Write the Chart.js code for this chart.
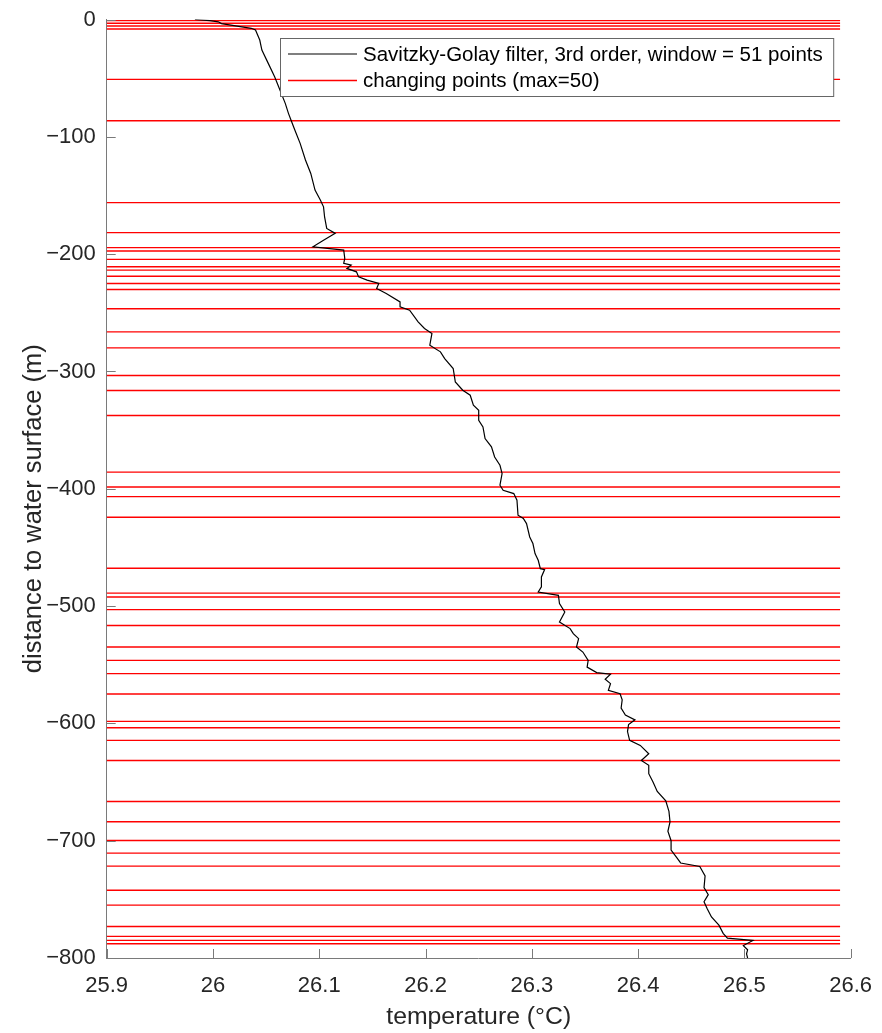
<!DOCTYPE html>
<html><head><meta charset="utf-8">
<script src="https://cdn.jsdelivr.net/npm/chart.js@4.4.1/dist/chart.umd.min.js"></script>
<style>html,body{margin:0;padding:0;background:#fff}#wrap{width:882px;height:1033px}</style>
</head><body><div id="wrap"><canvas id="c" width="882" height="1033"></canvas></div>
<script>
// ---- data ----
const curveDepth = [0,-0.9,-2.0,-3.5,-7.5,-9.0,-17.5,-26.0,-37.4,-48.8,-60.1,-71.5,-80.0,-87.2,-94.2,-105.6,-119.8,-131.2,-145.4,-153.9,-159.7,-168.2,-178.1,-182.3,-188.1,-193.8,-196.6,-203.7,-207.9,-209.4,-212.2,-215.1,-219.4,-222.2,-225.0,-229.3,-233.5,-240.7,-244.9,-247.8,-257.7,-263.4,-267.6,-277.6,-283.3,-289.0,-297.5,-308.9,-316.0,-320.3,-328.8,-333.1,-341.6,-347.3,-357.2,-364.3,-372.9,-380.0,-387.0,-397.0,-401.3,-404.1,-409.8,-422.6,-425.4,-429.7,-441.1,-446.7,-455.3,-461.0,-468.1,-468.9,-475.2,-483.7,-488.0,-490.9,-497.9,-505.1,-513.6,-519.2,-523.5,-527.8,-534.9,-539.2,-546.3,-552.0,-556.7,-558.1,-562.4,-566.1,-571.9,-574.7,-580,-587,-593,-597,-601,-607,-614.5,-618.8,-625.9,-631.6,-635.8,-642.9,-650,-658,-666,-675,-684,-692,-700,-708,-714,-719,-722,-730,-740,-746,-752,-758,-765,-772,-779,-783,-785.1,-789.4,-793,-796.4,-800];
const curveTemp = [25.983,25.997,26.005,26.008,26.036,26.040,26.044,26.046,26.052,26.058,26.063,26.068,26.071,26.074,26.077,26.082,26.087,26.092,26.096,26.101,26.104,26.105,26.107,26.115,26.104,26.094,26.123,26.124,26.123,26.130,26.126,26.135,26.137,26.145,26.156,26.154,26.163,26.176,26.176,26.185,26.193,26.199,26.206,26.204,26.214,26.218,26.226,26.228,26.235,26.242,26.245,26.250,26.250,26.254,26.256,26.262,26.265,26.270,26.272,26.270,26.273,26.283,26.286,26.287,26.292,26.295,26.298,26.301,26.303,26.306,26.308,26.312,26.309,26.309,26.306,26.325,26.326,26.331,26.326,26.336,26.339,26.344,26.342,26.348,26.353,26.352,26.361,26.374,26.369,26.374,26.372,26.383,26.385,26.384,26.388,26.397,26.391,26.390,26.392,26.402,26.410,26.403,26.410,26.410,26.414,26.418,26.426,26.429,26.430,26.428,26.431,26.431,26.436,26.440,26.458,26.463,26.462,26.466,26.462,26.465,26.469,26.476,26.480,26.484,26.508,26.499,26.503,26.502,26.503];
const changeDepths = [-1,-3.2,-5.5,-8.1,-51.0,-86.3,-156.1,-181.7,-194.5,-197.4,-204.5,-210.8,-213.6,-218.8,-225.0,-230.1,-246.5,-266.3,-279.9,-303.5,-316.3,-337.6,-385.8,-398.5,-406.7,-424.3,-467.8,-489.0,-492.3,-503.0,-516.6,-534.9,-546.3,-557.6,-575.0,-598.3,-603.7,-614.5,-631.6,-666.6,-683.9,-699.8,-710.6,-721.7,-742.2,-754.9,-773.1,-781.6,-785.0,-787.9];
const changeLineX = [25.9, 26.59];
const xTickLabels = ['25.9','26','26.1','26.2','26.3','26.4','26.5','26.6'];
const yTickLabels = ['\u2212800','\u2212700','\u2212600','\u2212500','\u2212400','\u2212300','\u2212200','\u2212100','0'];
const seriesLabels = ['Savitzky-Golay filter, 3rd order, window = 51 points','changing points (max=50)'];
const xTitle = 'temperature (°C)';
const yTitle = 'distance to water surface (m)';

// ---- styling ----
const FONT = "'Liberation Sans', Arial, Helvetica, sans-serif";
const AXIS_COLOR = '#7a7a7a';
const TEXT_COLOR = '#262626';

const datasets = [{
  label: seriesLabels[0],
  data: curveDepth.map((d, i) => ({x: curveTemp[i], y: d})),
  showLine: true, borderColor: '#000000', borderWidth: 1.2,
  pointRadius: 0, tension: 0, order: 0
}];
changeDepths.forEach(d => datasets.push({
  label: seriesLabels[1],
  data: [{x: changeLineX[0], y: d}, {x: changeLineX[1], y: d}],
  showLine: true, borderColor: '#ff0000', borderWidth: 1.4,
  pointRadius: 0, order: 1
}));

const inwardTicks = {
  id: 'inwardTicks',
  afterDatasetsDraw(chart) {
    const ctx = chart.ctx, ca = chart.chartArea, xs = chart.scales.x, ys = chart.scales.y;
    ctx.save();
    ctx.strokeStyle = AXIS_COLOR; ctx.lineWidth = 1;
    xs.ticks.forEach(t => {
      const p = Math.round(xs.getPixelForValue(t.value)) + 0.5;
      ctx.beginPath(); ctx.moveTo(p, ca.bottom); ctx.lineTo(p, ca.bottom - 9); ctx.stroke();
    });
    ys.ticks.forEach(t => {
      const p = Math.round(ys.getPixelForValue(t.value)) + 0.5;
      ctx.beginPath(); ctx.moveTo(ca.left, p); ctx.lineTo(ca.left + 9, p); ctx.stroke();
    });
    ctx.restore();
  }
};

const yTitlePlugin = {
  id: 'yTitlePlugin',
  afterDraw(chart) {
    const ctx = chart.ctx, ca = chart.chartArea;
    ctx.save();
    ctx.translate(34, (ca.top + ca.bottom) / 2 + 20);
    ctx.rotate(-Math.PI / 2);
    ctx.font = '25.5px ' + FONT;
    ctx.fillStyle = TEXT_COLOR;
    ctx.textAlign = 'center';
    ctx.textBaseline = 'middle';
    ctx.fillText(yTitle, 0, 0);
    ctx.restore();
  }
};

const boxLegend = {
  id: 'boxLegend',
  afterDraw(chart) {
    const ctx = chart.ctx, ca = chart.chartArea;
    const left = 280.5, top = 38.5, right = ca.right - 17, bottom = 96.5;
    ctx.save();
    ctx.fillStyle = '#ffffff';
    ctx.fillRect(left, top, right - left, bottom - top);
    ctx.strokeStyle = '#666666'; ctx.lineWidth = 1;
    ctx.strokeRect(left, top, right - left, bottom - top);
    const rows = [{y: 54, color: '#000000', w: 1.2}, {y: 80.5, color: '#ff0000', w: 1.4}];
    ctx.font = '20.5px ' + FONT;
    ctx.textBaseline = 'middle';
    ctx.fillStyle = '#000000';
    rows.forEach((r, i) => {
      ctx.strokeStyle = r.color; ctx.lineWidth = r.w;
      ctx.beginPath(); ctx.moveTo(288, r.y); ctx.lineTo(357, r.y); ctx.stroke();
      ctx.fillText(seriesLabels[i], 363, r.y + 1);
    });
    ctx.restore();
  }
};

new Chart(document.getElementById('c'), {
  type: 'scatter',
  data: {datasets},
  options: {
    responsive: false, animation: false, devicePixelRatio: 1,
    layout: {padding: {left: 0, right: 31.3, top: 19.5, bottom: 0}},
    plugins: {legend: {display: false}, tooltip: {enabled: false}},
    scales: {
      x: {
        type: 'linear', min: 25.9, max: 26.6,
        ticks: {stepSize: 0.1, autoSkip: false, maxRotation: 0, padding: 15,
          color: TEXT_COLOR, font: {family: FONT, size: 22},
          callback: (v, i) => xTickLabels[i]},
        grid: {display: false, drawTicks: false},
        border: {display: true, color: AXIS_COLOR, width: 1},
        title: {display: true, text: xTitle, color: TEXT_COLOR,
          font: {family: FONT, size: 24.8}, padding: {top: 0, bottom: 1}},
        afterFit: s => { s.height = 75; s.paddingLeft = 0; s.paddingRight = 0; }
      },
      y: {
        type: 'linear', min: -800, max: 0,
        ticks: {stepSize: 100, autoSkip: false, padding: 11,
          color: TEXT_COLOR, font: {family: FONT, size: 22},
          callback: (v, i) => yTickLabels[i]},
        grid: {display: false, drawTicks: false},
        border: {display: true, color: AXIS_COLOR, width: 1},
        title: {display: false},
        afterFit: s => { s.width = 106.7; s.paddingTop = 0; s.paddingBottom = 0; }
      }
    }
  },
  plugins: [inwardTicks, yTitlePlugin, boxLegend]
});
</script></body></html>
